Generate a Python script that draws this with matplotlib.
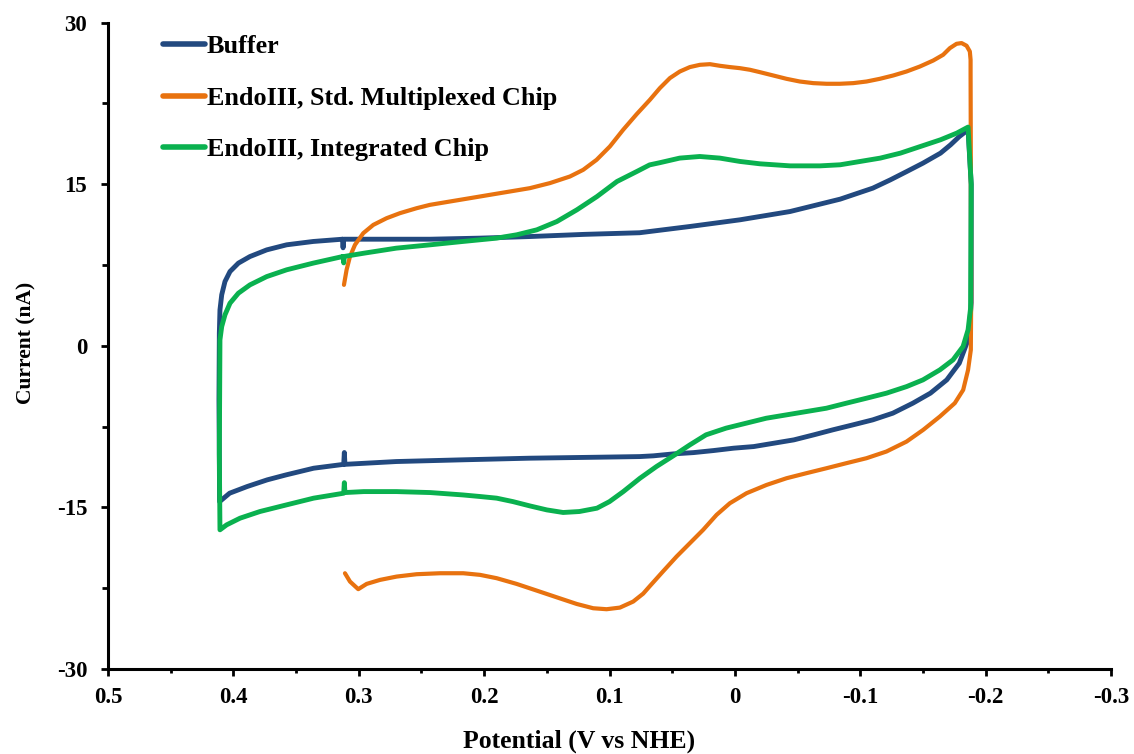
import matplotlib
matplotlib.use("Agg")
import matplotlib.pyplot as plt
from matplotlib.ticker import MultipleLocator, FuncFormatter

# ---------------- data (potential in V vs NHE, current in nA) ----------------
labels = ["Buffer", "EndoIII, Std. Multiplexed Chip", "EndoIII, Integrated Chip"]

buffer_v = [0.313, 0.3125, 0.312, 0.283, 0.243, 0.203, 0.163, 0.120, 0.076, 0.036, -0.004,
            -0.044, -0.084, -0.110, -0.124, -0.137, -0.150, -0.164, -0.172, -0.179, -0.186,
            -0.1885, -0.1885, -0.187, -0.186, -0.179, -0.169, -0.156, -0.142, -0.126, -0.110,
            -0.094, -0.078, -0.063, -0.047, -0.031, -0.015, 0.001, 0.017, 0.033, 0.049,
            0.065, 0.076, 0.110, 0.164, 0.217, 0.270, 0.311, 0.3115, 0.312,
            0.336, 0.358, 0.373, 0.389, 0.403, 0.411,
            0.4115, 0.4112, 0.4107, 0.4093, 0.4067, 0.4027, 0.396, 0.3868, 0.3734, 0.3575,
            0.3363, 0.313]
buffer_i = [9.9, 9.1, 9.9, 9.9, 9.9, 10.0, 10.15, 10.35, 10.5, 11.08, 11.7,
            12.47, 13.62, 14.64, 15.41, 16.18, 16.96, 17.89, 18.66, 19.43, 20.06,
            15.0, 4.0, 1.5, 0.56, -1.61, -3.16, -4.39, -5.32, -6.25, -6.87,
            -7.34, -7.80, -8.26, -8.73, -9.04, -9.35, -9.50, -9.72, -9.91, -10.03,
            -10.21, -10.28, -10.34, -10.43, -10.58, -10.74, -11.0, -9.9, -11.0,
            -11.36, -11.98, -12.44, -13.06, -13.68, -14.46,
            -5.0, 1.2, 3.34, 4.74, 5.97, 6.90, 7.68, 8.29, 8.91, 9.38,
            9.69, 9.9]

std_v = [0.3118, 0.3097, 0.307, 0.303, 0.2964, 0.2884, 0.2778, 0.2671, 0.2538, 0.2432,
         0.2273, 0.2113, 0.1954, 0.1794, 0.1635, 0.1475, 0.1316, 0.121, 0.1103, 0.0997,
         0.0891, 0.0784, 0.0678, 0.0598, 0.0518, 0.0439, 0.0359, 0.0279, 0.0199, 0.012,
         0.004, -0.004, -0.012, -0.0199, -0.0306, -0.0412, -0.0518, -0.0625, -0.0731,
         -0.0837, -0.0944, -0.105, -0.1156, -0.1263, -0.1369, -0.1475, -0.1582, -0.1661,
         -0.1715, -0.1768, -0.1808, -0.1848, -0.1874, -0.188, -0.188,
         -0.1885, -0.1882, -0.186, -0.1821, -0.1754, -0.1635, -0.1502, -0.1369, -0.1209,
         -0.105, -0.089, -0.0731, -0.0571, -0.0412, -0.0253, -0.0093, 0.004, 0.0146,
         0.0253, 0.0359, 0.0465, 0.057, 0.0678, 0.0731, 0.0811, 0.0917, 0.1023, 0.113,
         0.1262, 0.1422, 0.1581, 0.1741, 0.19, 0.2033, 0.2166, 0.2352, 0.2538, 0.2698,
         0.2831, 0.2937, 0.3004, 0.307, 0.311]
std_i = [5.66, 7.06, 8.29, 9.38, 10.46, 11.23, 11.85, 12.32, 12.78, 13.09,
         13.40, 13.71, 14.02, 14.33, 14.64, 15.11, 15.72, 16.34, 17.27, 18.51,
         20.06, 21.5, 22.84, 23.93, 24.86, 25.47, 25.88, 26.09, 26.15, 26.0,
         25.88, 25.78, 25.63, 25.41, 25.10, 24.79, 24.54, 24.39, 24.33,
         24.33, 24.39, 24.54, 24.79, 25.10, 25.47, 25.93, 26.49, 27.02,
         27.64, 28.04, 28.11, 27.86, 27.33, 26.56, 25.35,
         5.0, -0.37, -2.23, -4.09, -5.32, -6.56, -7.80, -8.89, -9.81,
         -10.43, -10.89, -11.36, -11.82, -12.29, -12.91, -13.68, -14.61, -15.69,
         -17.08, -18.32, -19.56, -20.9, -22.3, -23.0, -23.74, -24.30, -24.45, -24.36,
         -23.96, -23.34, -22.72, -22.10, -21.57, -21.26, -21.11, -21.11, -21.20, -21.42,
         -21.73, -22.10, -22.59, -21.88, -21.11]

integ_v = [0.3125, 0.312, 0.3115, 0.296, 0.270, 0.243, 0.217, 0.190, 0.174, 0.158, 0.142,
           0.126, 0.110, 0.094, 0.078, 0.068, 0.060, 0.044, 0.028, 0.012, -0.004, -0.020,
           -0.044, -0.068, -0.084, -0.100, -0.116, -0.132, -0.148, -0.164, -0.177, -0.186,
           -0.1885, -0.188, -0.186, -0.182, -0.174, -0.1635, -0.150, -0.137, -0.121, -0.105,
           -0.089, -0.073, -0.057, -0.041, -0.025, -0.009, 0.007, 0.023, 0.036, 0.049,
           0.0625, 0.0758, 0.089, 0.100, 0.110, 0.124, 0.137, 0.150, 0.1635, 0.177, 0.190,
           0.203, 0.217, 0.243, 0.270, 0.296, 0.311, 0.3115, 0.312,
           0.336, 0.3575, 0.3788, 0.3947, 0.4054, 0.4107,
           0.4112, 0.4107, 0.4093, 0.4067, 0.4027, 0.396, 0.3868, 0.3734, 0.3575, 0.3363,
           0.3125]
integ_i = [8.3, 7.7, 8.3, 8.6, 9.07, 9.38, 9.69, 10.0, 10.31, 10.77, 11.54,
           12.63, 13.86, 15.26, 16.2, 16.8, 17.0, 17.43, 17.58, 17.43, 17.12, 16.90,
           16.71, 16.71, 16.81, 17.12, 17.43, 17.89, 18.51, 19.13, 19.75, 20.31,
           15.0, 3.5, 1.49, -0.06, -1.30, -2.23, -3.16, -3.78, -4.39, -4.86,
           -5.32, -5.79, -6.10, -6.41, -6.72, -7.18, -7.64, -8.26, -9.2, -10.2,
           -11.2, -12.3, -13.53, -14.46, -15.07, -15.38, -15.47, -15.23, -14.86, -14.46, -14.14,
           -13.99, -13.84, -13.62, -13.53, -13.53, -13.62, -12.7, -13.68,
           -14.14, -14.76, -15.38, -16.0, -16.62, -17.08,
           -10.0, 0.56, 1.79, 2.88, 3.96, 4.89, 5.66, 6.43, 7.06, 7.68,
           8.3]

colors = ["#22497F", "#E8720F", "#0AB14F"]

x_ticks = [0.5, 0.4, 0.3, 0.2, 0.1, 0.0, -0.1, -0.2, -0.3]
y_ticks = [-30, -15, 0, 15, 30]

# ---------------- style ----------------
plt.rcParams["font.family"] = ["Liberation Serif", "DejaVu Serif"]
plt.rcParams["font.weight"] = "bold"
plt.rcParams["axes.unicode_minus"] = False
FS_TICK = 16.5
FS_LEG = 18.8
FS_XLAB = 18.5
FS_YLAB = 15.5

fig = plt.figure(figsize=(11.34, 7.54), dpi=100)
ax = fig.add_axes([108 / 1134, 1 - 669 / 754, (1111 - 108) / 1134, (669 - 22.7) / 754])

series = [(buffer_v, buffer_i), (std_v, std_i), (integ_v, integ_i)]
widths = [3.5, 3.0, 3.5]
for (v, i), c, lab, w in zip(series, colors, labels, widths):
    ax.plot(v, i, color=c, lw=w, label=lab, solid_capstyle="round", solid_joinstyle="round")

ax.set_xlim(0.5, -0.3)
ax.set_ylim(-30, 30)
ax.set_xticks(x_ticks)
ax.set_yticks(y_ticks)
ax.xaxis.set_minor_locator(MultipleLocator(0.05))
ax.yaxis.set_minor_locator(MultipleLocator(7.5))

def fmt(x, pos):
    s = f"{x:.1f}".rstrip("0").rstrip(".")
    if s in ("-0", ""):
        s = "0"
    return s

ax.xaxis.set_major_formatter(FuncFormatter(fmt))

for s in ["top", "right"]:
    ax.spines[s].set_visible(False)
for s in ["left", "bottom"]:
    ax.spines[s].set_linewidth(2.2)
    ax.spines[s].set_color("black")

ax.tick_params(axis="y", which="major", direction="out", length=5, width=2, pad=10, labelsize=FS_TICK)
ax.tick_params(axis="y", which="minor", direction="out", length=4, width=2)
ax.tick_params(axis="x", which="major", direction="out", length=5, width=2, pad=8, labelsize=FS_TICK)
ax.tick_params(axis="x", which="minor", direction="out", length=3, width=2)
for lbl in ax.get_xticklabels() + ax.get_yticklabels():
    lbl.set_fontweight("bold")

ax.set_xlabel("Potential (V vs NHE)", fontsize=FS_XLAB, fontweight="bold")
ax.set_ylabel("Current (nA)", fontsize=FS_YLAB, fontweight="bold")
ax.xaxis.set_label_coords(0.47, -0.094)
ax.yaxis.set_label_coords(-0.071, 0.505)

leg = fig.legend(loc="upper left", bbox_to_anchor=(163 / 1134, 1 - 35 / 754),
                 frameon=False, fontsize=FS_LEG, handlelength=1.6, handletextpad=0.08,
                 labelspacing=1.08, borderpad=0, borderaxespad=0)
for line in leg.get_lines():
    line.set_linewidth(4)
    line.set_solid_capstyle("round")

fig.savefig("out.png", dpi=100)
